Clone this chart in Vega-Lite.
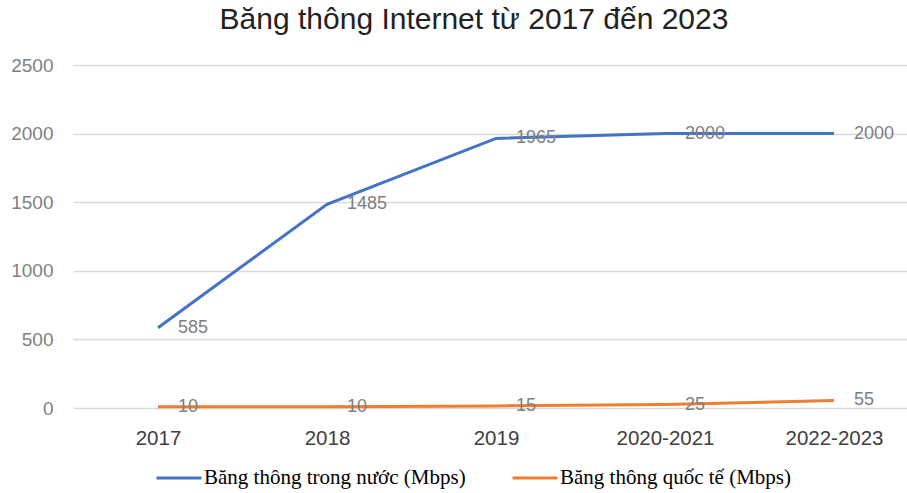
{
  "$schema": "https://vega.github.io/schema/vega-lite/v6.json",
  "width": 834,
  "height": 343,
  "autosize": {"type": "none"},
  "padding": {"left": 73, "top": 65, "right": 0, "bottom": 85},
  "background": "white",
  "title": {
    "text": "Băng thông Internet từ 2017 đến 2023",
    "font": "Liberation Sans",
    "fontSize": 30,
    "fontWeight": "normal",
    "color": "#222222",
    "anchor": "middle",
    "dx": -16,
    "offset": 21
  },
  "data": {
    "values": [
      {"year": "2017", "series": "Băng thông trong nước (Mbps)", "value": 585},
      {"year": "2018", "series": "Băng thông trong nước (Mbps)", "value": 1485},
      {"year": "2019", "series": "Băng thông trong nước (Mbps)", "value": 1965},
      {"year": "2020-2021", "series": "Băng thông trong nước (Mbps)", "value": 2000},
      {"year": "2022-2023", "series": "Băng thông trong nước (Mbps)", "value": 2000},
      {"year": "2017", "series": "Băng thông quốc tế (Mbps)", "value": 10},
      {"year": "2018", "series": "Băng thông quốc tế (Mbps)", "value": 10},
      {"year": "2019", "series": "Băng thông quốc tế (Mbps)", "value": 15},
      {"year": "2020-2021", "series": "Băng thông quốc tế (Mbps)", "value": 25},
      {"year": "2022-2023", "series": "Băng thông quốc tế (Mbps)", "value": 55}
    ]
  },
  "encoding": {
    "x": {
      "field": "year",
      "type": "ordinal",
      "sort": null,
      "scale": {"type": "point", "padding": 0.4675, "align": 0.538},
      "axis": {
        "title": null,
        "labelAngle": 0,
        "domain": false,
        "ticks": false,
        "labelFont": "Liberation Sans",
        "labelFontSize": 20.5,
        "labelColor": "#404040",
        "labelPadding": 20
      }
    },
    "y": {
      "field": "value",
      "type": "quantitative",
      "scale": {"domain": [0, 2500], "nice": false},
      "axis": {
        "title": null,
        "values": [0, 500, 1000, 1500, 2000, 2500],
        "format": "d",
        "domain": false,
        "ticks": false,
        "grid": true,
        "gridColor": "#d9d9d9",
        "gridWidth": 1.5,
        "labelFont": "Liberation Sans",
        "labelFontSize": 19,
        "labelColor": "#7f7f7f",
        "labelPadding": 20
      }
    },
    "color": {
      "field": "series",
      "type": "nominal",
      "sort": ["Băng thông trong nước (Mbps)", "Băng thông quốc tế (Mbps)"],
      "scale": {
        "domain": ["Băng thông trong nước (Mbps)", "Băng thông quốc tế (Mbps)"],
        "range": ["#4472C4", "#ED7D31"]
      },
      "legend": {
        "title": null,
        "orient": "none",
        "legendX": 82,
        "legendY": 389,
        "direction": "horizontal",
        "symbolType": "stroke",
        "symbolSize": 2025,
        "symbolStrokeWidth": 3,
        "labelFont": "Liberation Serif",
        "labelFontSize": 21,
        "labelColor": "#000000",
        "labelOffset": 1,
        "columnPadding": 40,
        "labelLimit": 400
      }
    }
  },
  "layer": [
    {
      "mark": {"type": "line", "strokeWidth": 3}
    },
    {
      "mark": {
        "type": "text",
        "align": "left",
        "baseline": "middle",
        "dx": 20,
        "dy": 0,
        "font": "Liberation Sans",
        "fontSize": 18,
        "color": "#7f7f7f"
      },
      "encoding": {
        "text": {"field": "value", "type": "quantitative"},
        "color": {"value": "#7f7f7f"}
      }
    }
  ],
  "config": {"view": {"stroke": null}}
}
